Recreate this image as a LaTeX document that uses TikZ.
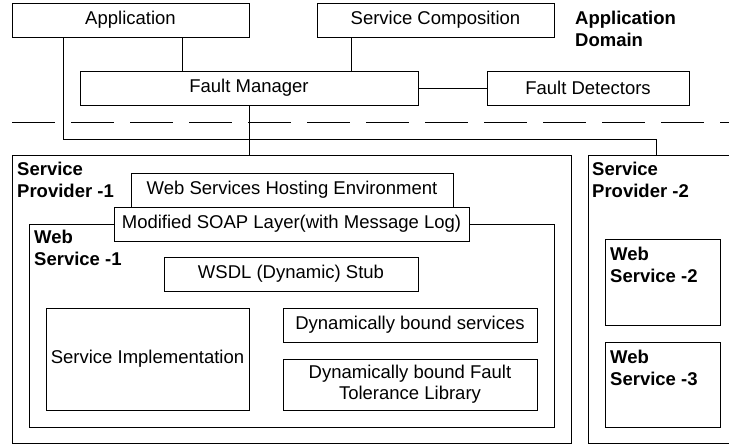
\documentclass[tikz,border=0pt]{standalone}
\usepackage{fontspec}
\setmainfont{Liberation Sans}
\usepackage{tikz}
\usetikzlibrary{calc}

\tikzset{
  blk/.style={draw, fill=white, line width=0.8pt, inner sep=0pt, align=center,
    font=\fontsize{18.5}{21}\selectfont},
  lbl/.style={anchor=north west, inner sep=0pt, align=left,
    font=\fontsize{18.5}{22}\selectfont\bfseries},
  wire/.style={line width=0.8pt}
}

\begin{document}
\begin{tikzpicture}[x=1pt,y=-1pt]
\clip (0,0) rectangle (729,445);
\fill[white] (0,0) rectangle (729,445);

% Application domain
\node[blk, minimum width=237, minimum height=34] (app) at (130.5,20) {Application};
\node[blk, minimum width=237, minimum height=34] (comp) at (435.5,20) {Service Composition};
\node[lbl] (dom) at (575,11) {Application\\Domain};
\node[blk, minimum width=338, minimum height=34] (fm) at (249,88) {Fault Manager};
\node[blk, minimum width=202, minimum height=34] (fd) at (588,88) {Fault Detectors};

\draw[wire] ([xshift=51.5pt]app.south) -- ([xshift=51.5pt]app.south |- fm.north);
\draw[wire] ([xshift=-84.5pt]comp.south) -- ([xshift=-84.5pt]comp.south |- fm.north);
\draw[wire] (fm) -- (fd);

% domain border
\draw[wire, dash pattern=on 43pt off 16pt] (12,122) -- (729,122);

% Service provider 1
\node[blk, minimum width=559, minimum height=288] (sp1) at (291.5,299) {};
\node[lbl] (sp1l) at (17,162) {Service\\Provider -1};
\node[blk, minimum width=525, minimum height=203] (ws1) at (291.5,325.5) {};
\node[lbl] (ws1l) at (34,230) {Web\\Service -1};
\node[blk, minimum width=322, minimum height=34] (host) at (292,190) {Web Services Hosting Environment};
\node[blk, minimum width=355, minimum height=34] (soap) at (291.5,224) {Modified SOAP Layer(with Message Log)};
\node[blk, minimum width=254, minimum height=34] (wsdl) at (291,274) {WSDL (Dynamic) Stub};
\node[blk, minimum width=203, minimum height=102] (impl) at (147.5,359) {Service Implementation};
\node[blk, minimum width=254, minimum height=34] (dbs) at (410,325) {Dynamically bound services};
\node[blk, minimum width=254, minimum height=51] (dbf) at (410,384.5) {Dynamically bound Fault\\Tolerance Library};

% Service provider 2
\node[blk, minimum width=172, minimum height=288] (sp2) at (674,299) {};
\node[lbl] (sp2l) at (592,162) {Service\\Provider -2};
\node[blk, minimum width=115, minimum height=86] (ws2) at (662.5,282) {};
\node[lbl] (ws2l) at (610,247) {Web\\Service -2};
\node[blk, minimum width=115, minimum height=85] (ws3) at (662.5,384.5) {};
\node[lbl] (ws3l) at (610,350) {Web\\Service -3};

% links down to the providers
\coordinate (bend) at (656,139);
\draw[wire] (fm.south) -- (fm.south |- sp1.north);
\draw[wire] ([xshift=-67.5pt]app.south) |- (bend) -- (bend |- sp2.north);
\end{tikzpicture}
\end{document}
